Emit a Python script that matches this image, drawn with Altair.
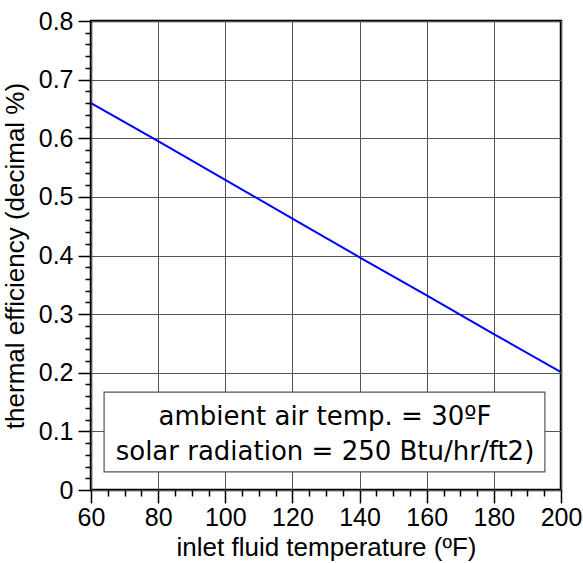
import altair as alt
import pandas as pd

# data
inlet_temp = [60, 80, 100, 120, 140, 160, 180, 200]
efficiency = [0.660, 0.595, 0.529, 0.463, 0.397, 0.332, 0.266, 0.201]

x_ticks = [60, 65, 70, 75, 80, 85, 90, 95, 100, 105, 110, 115, 120, 125, 130, 135,
           140, 145, 150, 155, 160, 165, 170, 175, 180, 185, 190, 195, 200]
y_ticks = [0.0, 0.02, 0.04, 0.06, 0.08, 0.1, 0.12, 0.14, 0.16, 0.18,
           0.2, 0.22, 0.24, 0.26, 0.28, 0.3, 0.32, 0.34, 0.36, 0.38,
           0.4, 0.42, 0.44, 0.46, 0.48, 0.5, 0.52, 0.54, 0.56, 0.58,
           0.6, 0.62, 0.64, 0.66, 0.68, 0.7, 0.72, 0.74, 0.76, 0.78, 0.8]

note_lines = ["ambient air temp. = 30ºF", "solar radiation = 250 Btu/hr/ft2)"]
note_box_x = [63.9, 195.2]
note_box_y = [0.031, 0.167]
note_text_x = [129.7, 129.7]
note_text_y = [0.1245, 0.065]

df = pd.DataFrame({"x": inlet_temp, "y": efficiency})
box = pd.DataFrame({"x": [note_box_x[0]], "x2": [note_box_x[1]],
                    "y": [note_box_y[0]], "y2": [note_box_y[1]]})
notes = pd.DataFrame({"x": note_text_x, "y": note_text_y, "t": note_lines})

FONT = "Liberation Sans"
GRID = "#555555"

xscale = alt.Scale(domain=[60, 200], nice=False, zero=False)
yscale = alt.Scale(domain=[0, 0.8], nice=False, zero=False)

XMAJ = "datum.value % 20 == 0"
YMAJ = "round(datum.value*100) % 10 == 0"

xaxis = alt.Axis(
    values=x_ticks, tickCount=500,
    title="inlet fluid temperature (ºF)",
    labelExpr=f"{XMAJ} ? format(datum.value, 'd') : ''",
    tickSize={"condition": {"test": XMAJ, "value": 13}, "value": 6},
    gridOpacity={"condition": {"test": XMAJ, "value": 1}, "value": 0},
    grid=True, gridColor=GRID, gridWidth=1,
    domain=False, tickColor="black", tickWidth=1.5,
    labelFont=FONT, labelFontSize=25, labelColor="black", labelPadding=2,
    labelOverlap=False, labelFlush=False,
    titleFont=FONT, titleFontSize=26, titleFontWeight="normal", titleColor="black",
    titlePadding=4,
)
yaxis = alt.Axis(
    values=y_ticks, tickCount=500,
    title="thermal efficiency (decimal %)",
    labelExpr=f"{YMAJ} ? format(datum.value, '.1~f') : ''",
    tickSize={"condition": {"test": YMAJ, "value": 13}, "value": 6},
    gridOpacity={"condition": {"test": YMAJ, "value": 1}, "value": 0},
    grid=True, gridColor=GRID, gridWidth=1,
    domain=False, tickColor="black", tickWidth=1.5,
    labelFont=FONT, labelFontSize=25, labelColor="black", labelPadding=5,
    labelOverlap=False, labelFlush=False,
    titleFont=FONT, titleFontSize=26, titleFontWeight="normal", titleColor="black",
    titlePadding=10,
)

line = alt.Chart(df).mark_line(color="#0000ff", strokeWidth=2, clip=True).encode(
    x=alt.X("x:Q", scale=xscale, axis=xaxis),
    y=alt.Y("y:Q", scale=yscale, axis=yaxis),
)

rect = alt.Chart(box).mark_rect(fill="white", stroke="#555555", strokeWidth=1.2).encode(
    x=alt.X("x:Q", scale=xscale), x2="x2:Q",
    y=alt.Y("y:Q", scale=yscale), y2="y2:Q",
)

text = alt.Chart(notes).mark_text(
    font="DejaVu Sans", fontSize=26, color="black", align="center", baseline="middle"
).encode(
    x=alt.X("x:Q", scale=xscale),
    y=alt.Y("y:Q", scale=yscale),
    text="t:N",
)

chart = alt.layer(line, rect, text).properties(
    width=470, height=469,
    autosize=alt.AutoSizeParams(type="none"),
    padding={"left": 91, "top": 21, "right": 22, "bottom": 73},
    background="white",
).configure_view(stroke="black", strokeWidth=2.5)

chart.save("out.html", embed_options={"renderer": "svg", "actions": False})
